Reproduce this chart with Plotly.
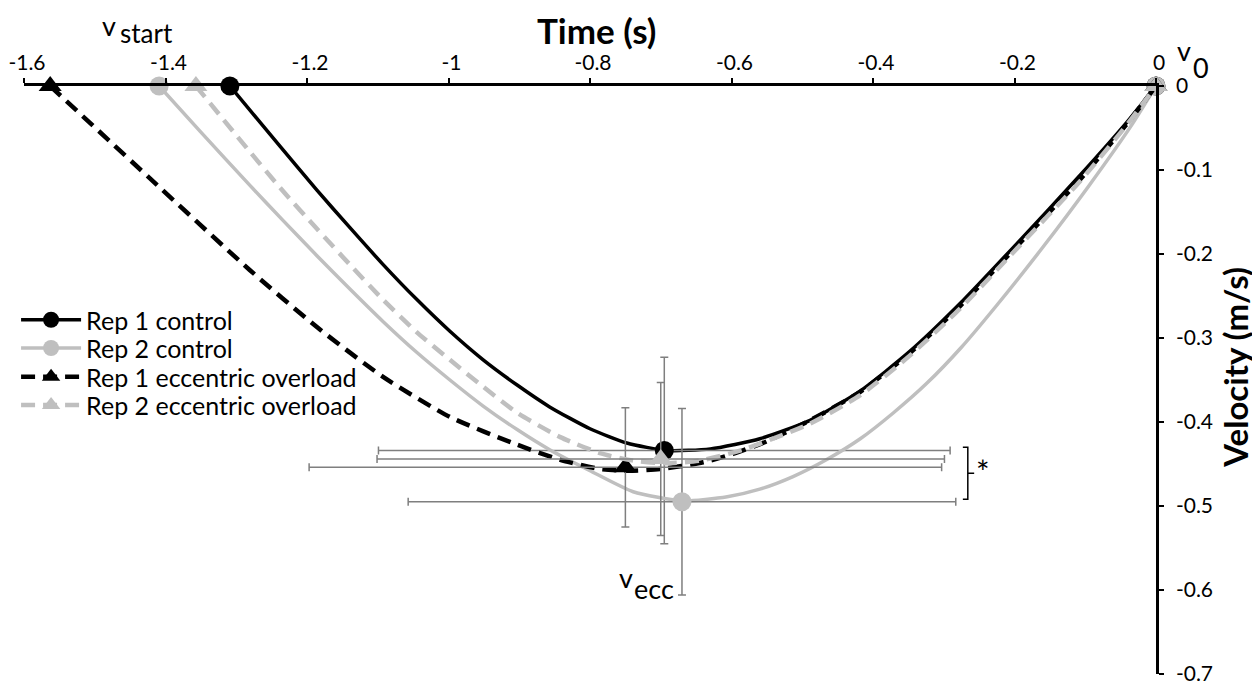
import plotly.graph_objects as go

# ---------------- data ----------------
series_names = ["Rep 1 control", "Rep 2 control", "Rep 1 eccentric overload", "Rep 2 eccentric overload"]

rep1_ctrl_t = [-1.309, -1.238, -1.186, -1.139, -1.093, -1.045, -0.998, -0.951, -0.903, -0.857, -0.800, -0.748,
               -0.691, -0.630, -0.560, -0.489, -0.418, -0.348, -0.277, -0.196, -0.107, -0.041, 0.0]
rep1_ctrl_v = [0.0, -0.072, -0.124, -0.169, -0.212, -0.254, -0.292, -0.326, -0.356, -0.382, -0.408, -0.425,
               -0.434, -0.432, -0.420, -0.398, -0.363, -0.316, -0.259, -0.187, -0.106, -0.043, 0.0]

rep2_ctrl_t = [-1.409, -1.351, -1.281, -1.234, -1.186, -1.139, -1.093, -1.045, -0.998, -0.951, -0.903, -0.857,
               -0.800, -0.739, -0.669, -0.606, -0.560, -0.513, -0.466, -0.418, -0.371, -0.324, -0.275, -0.225,
               -0.160, -0.095, -0.034, 0.0]
rep2_ctrl_v = [0.0, -0.054, -0.118, -0.160, -0.202, -0.242, -0.280, -0.317, -0.350, -0.381, -0.409, -0.433,
               -0.458, -0.483, -0.494, -0.489, -0.480, -0.465, -0.445, -0.420, -0.389, -0.354, -0.311, -0.261,
               -0.192, -0.119, -0.046, 0.0]

rep1_eo_t = [-1.563, -1.422, -1.281, -1.186, -1.093, -0.998, -0.903, -0.842, -0.786, -0.746, -0.701, -0.640,
             -0.598, -0.550, -0.489, -0.418, -0.348, -0.277, -0.196, -0.107, -0.041, 0.0]
rep1_eo_v = [0.0, -0.110, -0.219, -0.287, -0.346, -0.394, -0.427, -0.445, -0.456, -0.458, -0.456, -0.448,
             -0.438, -0.423, -0.398, -0.364, -0.318, -0.262, -0.190, -0.111, -0.045, 0.0]

rep2_eo_t = [-1.357, -1.281, -1.234, -1.186, -1.139, -1.093, -1.045, -0.998, -0.951, -0.903, -0.842, -0.786,
             -0.739, -0.694, -0.645, -0.584, -0.489, -0.418, -0.348, -0.277, -0.196, -0.107, -0.041, 0.0]
rep2_eo_v = [0.0, -0.078, -0.125, -0.170, -0.213, -0.254, -0.293, -0.326, -0.358, -0.389, -0.418, -0.437,
             -0.446, -0.449, -0.446, -0.433, -0.402, -0.368, -0.321, -0.265, -0.193, -0.113, -0.046, 0.0]

# eccentric peak velocity points (mean) with SD error bars, same order as series_names
ecc_t = [-0.695, -0.670, -0.750, -0.700]
ecc_v = [-0.434, -0.495, -0.454, -0.444]
ecc_t_sd = [0.404, 0.387, 0.447, 0.401]
ecc_v_sd = [0.111, 0.111, 0.071, 0.091]

x_tickvals = [-1.6, -1.4, -1.2, -1.0, -0.8, -0.6, -0.4, -0.2, 0.0]
x_ticktext = ["-1.6", "-1.4", "-1.2", "-1", "-0.8", "-0.6", "-0.4", "-0.2", "0"]
y_tickvals = [0.0, -0.1, -0.2, -0.3, -0.4, -0.5, -0.6, -0.7]
y_ticktext = ["0", "-0.1", "-0.2", "-0.3", "-0.4", "-0.5", "-0.6", "-0.7"]

# ---------------- styles ----------------
BLACK = "#000000"
GREY = "#BFBFBF"
ERR = "#7F7F7F"
FONT = "Lato"
DASH = "14px,8px"

curves = [
    (rep1_ctrl_t, rep1_ctrl_v, BLACK, "solid", "circle", 3.5),
    (rep2_ctrl_t, rep2_ctrl_v, GREY, "solid", "circle", 3.5),
    (rep1_eo_t, rep1_eo_v, BLACK, DASH, "triangle-up", 4.5),
    (rep2_eo_t, rep2_eo_v, GREY, DASH, "triangle-up", 4.5),
]

fig = go.Figure()

for i, (t, v, col, dash, sym, lw) in enumerate(curves):
    msize = 19 if sym == "circle" else 20
    fig.add_trace(go.Scatter(x=t, y=v, mode="lines", showlegend=False, hoverinfo="skip",
                             line=dict(color=col, width=lw, dash=dash, shape="spline", smoothing=0.6),
                             cliponaxis=False))
    fig.add_trace(go.Scatter(x=[t[0], t[-1]], y=[v[0], v[-1]], mode="markers", showlegend=False,
                             marker=dict(color=col, size=msize, symbol=sym), cliponaxis=False))
    fig.add_trace(go.Scatter(x=[ecc_t[i]], y=[ecc_v[i]], mode="markers", showlegend=False,
                             marker=dict(color=col, size=msize, symbol=sym),
                             error_x=dict(type="data", array=[ecc_t_sd[i]], color=ERR, thickness=1.5, width=4),
                             error_y=dict(type="data", array=[ecc_v_sd[i]], color=ERR, thickness=1.5, width=4),
                             cliponaxis=False))

# legend entries: one legend per row so the row spacing can match the reference
legend_ids = ["legend", "legend2", "legend3", "legend4"]
legend_rows_y = [0.602, 0.554, 0.505, 0.457]
for i, (t, v, col, dash, sym, lw) in enumerate(curves):
    msize = 17 if sym == "circle" else 18
    fig.add_trace(go.Scatter(x=[None], y=[None], mode="lines+markers", name=series_names[i],
                             legend=legend_ids[i],
                             line=dict(color=col, width=lw, dash=dash),
                             marker=dict(color=col, size=msize, symbol=sym)))

# significance bracket derived from the error-bar data
right_ends = [a + b for a, b in zip(ecc_t, ecc_t_sd)]
xb = max(right_ends) + 0.017
top = max(ecc_v) + 0.004
bot = min(ecc_v) + 0.003
mid = (top + bot) / 2
fig.add_shape(type="path", xref="x", yref="y",
              path=f"M {xb-0.007},{top} L {xb},{top} L {xb},{bot} L {xb-0.007},{bot} M {xb},{mid} L {xb+0.009},{mid}",
              line=dict(color=BLACK, width=1.5))

ann_font = dict(family=FONT, size=27, color=BLACK)
C = dict(showarrow=False, xanchor="center", yanchor="middle")
annotations = [
    dict(text="*", x=xb + 0.022, y=mid + 0.002, xref="x", yref="y",
         font=dict(family=FONT, size=32, color=BLACK), **C),
    # v_start
    dict(text="v", x=-1.480, y=1.1025, xref="x", yref="paper", font=ann_font, **C),
    dict(text="start", x=-1.427, y=1.0895, xref="x", yref="paper",
         font=dict(family=FONT, size=26, color=BLACK), **C),
    # v_0
    dict(text="v", x=1.0247, y=1.061, xref="paper", yref="paper", font=ann_font, **C),
    dict(text="0", x=1.0395, y=1.032, xref="paper", yref="paper", font=ann_font, **C),
    # v_ecc
    dict(text="v", x=-0.749, y=-0.585, xref="x", yref="y", font=ann_font, **C),
    dict(text="ecc", x=-0.709, y=-0.598, xref="x", yref="y", font=ann_font, **C),
    # axis titles
    dict(text="<b>Time (s)</b>", x=0.506, y=1.095, xref="paper", yref="paper",
         font=dict(family=FONT, size=35, color=BLACK), **C),
    dict(text="<b>Velocity (m/s)</b>", x=1.0695, y=0.522, xref="paper", yref="paper",
         textangle=-90, font=dict(family=FONT, size=33, color=BLACK), **C),
]

legend_common = dict(x=-0.007, xanchor="left", yanchor="middle", bgcolor="rgba(0,0,0,0)",
                     font=dict(family=FONT, size=25, color=BLACK), itemwidth=60)

# the page adds an 8px body margin, so the margins are offset by 8px to keep the plot where the reference has it
fig.update_layout(
    width=1260, height=686,
    margin=dict(l=16, r=112, t=78, b=20, autoexpand=False),
    paper_bgcolor="white", plot_bgcolor="white",
    font=dict(family=FONT, color=BLACK),
    annotations=annotations,
    showlegend=True,
    legend=dict(y=legend_rows_y[0], **legend_common),
    legend2=dict(y=legend_rows_y[1], **legend_common),
    legend3=dict(y=legend_rows_y[2], **legend_common),
    legend4=dict(y=legend_rows_y[3], **legend_common),
    xaxis=dict(range=[-1.6, 0], side="top", showgrid=False, zeroline=False, automargin=False,
               showline=True, linecolor=BLACK, linewidth=2.5, ticklabeloverflow="allow",
               ticklabelshift=3,
               ticks="outside", ticklen=5, tickwidth=2, tickcolor=BLACK,
               tickvals=x_tickvals, ticktext=x_ticktext,
               tickfont=dict(family=FONT, size=21, color=BLACK)),
    yaxis=dict(range=[-0.7, 0], side="right", showgrid=False, zeroline=False, automargin=False,
               showline=True, linecolor=BLACK, linewidth=2.5, ticklabeloverflow="allow",
               ticks="outside", ticklen=5, tickwidth=2, tickcolor=BLACK,
               tickvals=y_tickvals, ticktext=y_ticktext, ticklabelstandoff=8,
               tickfont=dict(family=FONT, size=21, color=BLACK)),
)

fig.write_html("out.html")
